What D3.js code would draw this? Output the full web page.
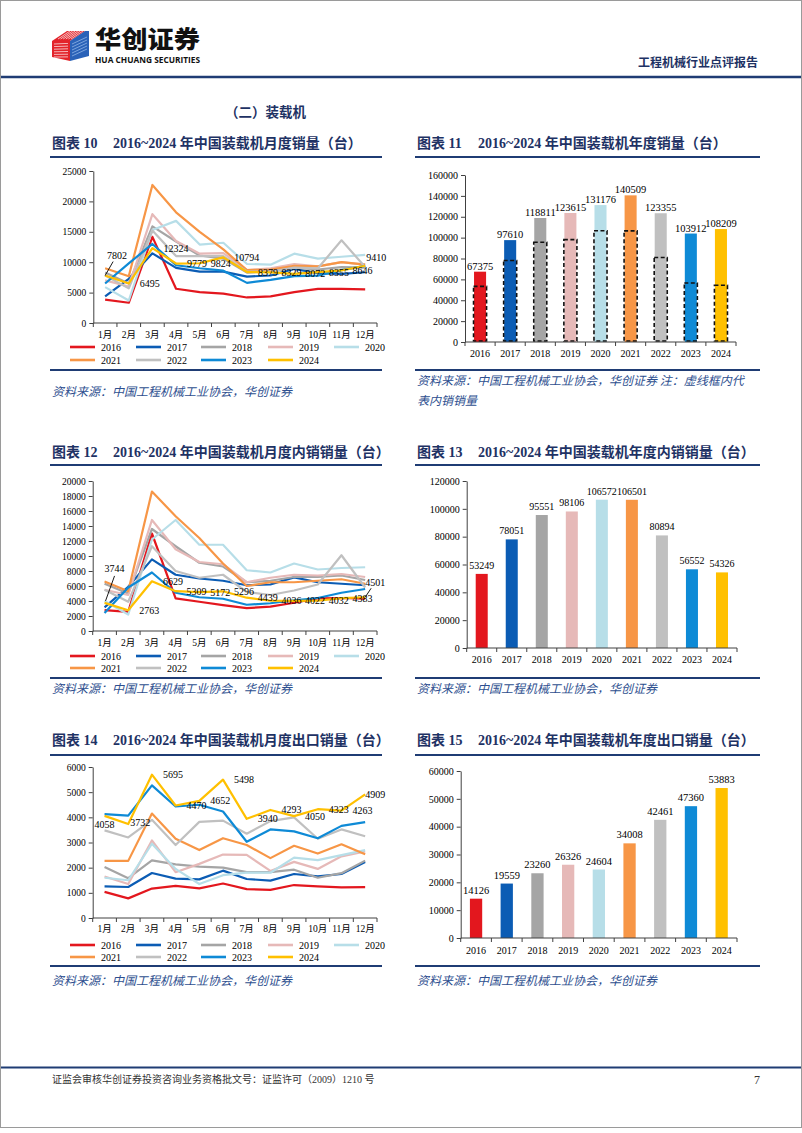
<!DOCTYPE html>
<html><head><meta charset="utf-8">
<script src="https://cdn.jsdelivr.net/npm/d3@7"></script>
<style>
body{margin:0;background:#fff}
svg{display:block}
</style></head><body>
<svg id="page" width="802" height="1133"></svg>
<script>
// ---------------- DATA ----------------
const months = ["1月","2月","3月","4月","5月","6月","7月","8月","9月","10月","11月","12月"];
const years = ["2016","2017","2018","2019","2020","2021","2022","2023","2024"];
const yearColors = ["#e3171e","#0b5cb4","#a5a5a5","#e6b9b8","#b7dee8","#f79646","#c0c0c0","#0e8ad6","#ffc000"];

// Chart 10: monthly total sales, one array per year 2016..2024
const monthlyTotal = [
  [3830, 3330, 14170, 5630, 5080, 4820, 4200, 4370, 5080, 5610, 5620, 5530],
  [4370, 7260, 11460, 9060, 8460, 8460, 7640, 7810, 8900, 8190, 8080, 8350],
  [8300, 6500, 15900, 13400, 11100, 10600, 8300, 8500, 9100, 8800, 9200, 9100],
  [7000, 6000, 17900, 13500, 11400, 11500, 8700, 9000, 9700, 9300, 10000, 9600],
  [5900, 3700, 15300, 16800, 12900, 13200, 9700, 9600, 11400, 10600, 10900, 11200],
  [9000, 7700, 22700, 18200, 15000, 12100, 8700, 8800, 9400, 9300, 10000, 9600],
  [7800, 5700, 15200, 11000, 11000, 11000, 8500, 8400, 9100, 9000, 13600, 9200],
  [6500, 9800, 13000, 9500, 9000, 8600, 6600, 7100, 7700, 7800, 8700, 9400],
  [7802, 6495, 12324, 9779, 9824, 10794, 8379, 8329, 8072, 8355, 8646, 9410]
];
// Chart 12: monthly domestic sales
const monthlyDomestic = [
  [2790, 2550, 13000, 4350, 3900, 3450, 3050, 3250, 3770, 4350, 4400, 4300],
  [3150, 5900, 9550, 7500, 7000, 6700, 6100, 6200, 7150, 6500, 6300, 6100],
  [6300, 5000, 13600, 11300, 9100, 8600, 6500, 6700, 7200, 7200, 7400, 6800],
  [5500, 4800, 14800, 10900, 9200, 8900, 6500, 7100, 7500, 7400, 7600, 7200],
  [4000, 2200, 12200, 14800, 11500, 11500, 8100, 7800, 9000, 8200, 8400, 8500],
  [6600, 5300, 18600, 15300, 12400, 9000, 6000, 6500, 6500, 6700, 6900, 6300],
  [5500, 3900, 11300, 8000, 7100, 7500, 5200, 4800, 5400, 6200, 10100, 5800],
  [2400, 5800, 7800, 5100, 4500, 4300, 3500, 3700, 4100, 4400, 5100, 5600],
  [3744, 2763, 6629, 5309, 5172, 5296, 4439, 4036, 4022, 4032, 4383, 4501]
];
// Chart 14: monthly export sales
const monthlyExport = [
  [1040, 780, 1170, 1280, 1180, 1370, 1150, 1120, 1310, 1260, 1220, 1230],
  [1258, 1232, 1788, 1563, 1536, 1881, 1550, 1483, 1748, 1656, 1748, 2225],
  [2030, 1580, 2290, 2130, 2040, 2000, 1820, 1820, 1920, 1600, 1780, 2280],
  [1650, 1350, 3080, 1820, 2150, 2520, 2510, 1870, 2230, 1950, 2450, 2650],
  [1600, 1500, 2950, 1950, 1350, 1700, 1800, 1800, 2400, 2300, 2500, 2700],
  [2270, 2270, 4150, 3150, 2700, 3170, 2900, 2380, 2870, 2560, 2930, 2530],
  [3480, 3200, 3900, 2900, 3820, 3870, 3350, 3850, 4000, 3150, 3520, 3250],
  [4130, 4070, 5270, 4430, 4500, 4230, 3030, 3520, 3440, 3170, 3660, 3810],
  [4058, 3732, 5695, 4470, 4652, 5498, 3940, 4293, 4050, 4323, 4263, 4909]
];
// Charts 11, 13, 15: annual values
const annualTotal    = [67375, 97610, 118811, 123615, 131176, 140509, 123355, 103912, 108209];
const annualDomestic = [53249, 78051, 95551, 98106, 106572, 106501, 80894, 56552, 54326];
const annualExport   = [14126, 19559, 23260, 26326, 24604, 34008, 42461, 47360, 53883];

// Axis tick values
const ticksMonthlyTotal    = [0, 5000, 10000, 15000, 20000, 25000];
const ticksMonthlyDomestic = [0, 2000, 4000, 6000, 8000, 10000, 12000, 14000, 16000, 18000, 20000];
const ticksMonthlyExport   = [0, 1000, 2000, 3000, 4000, 5000, 6000];
const ticksAnnualTotal     = [0, 20000, 40000, 60000, 80000, 100000, 120000, 140000, 160000];
const ticksAnnualDomestic  = [0, 20000, 40000, 60000, 80000, 100000, 120000];
const ticksAnnualExport    = [0, 10000, 20000, 30000, 40000, 50000, 60000];

// ---------------- STYLE ----------------
const NAVY = "#1e3264";
const SRC = "#2e4f8f";
const SERIF = "'Liberation Serif','Times New Roman','Noto Sans CJK SC',serif";
const SANS = "'Noto Sans CJK SC','Liberation Sans',sans-serif";
const AX = "#404040";

const svg = d3.select("#page");

// page border
svg.append("rect").attr("x",0.5).attr("y",0.5).attr("width",801).attr("height",1127)
  .attr("fill","none").attr("stroke","#9a9a9a").attr("stroke-width",1);

// ---------------- HEADER ----------------
const logo = svg.append("g");
logo.append("path").attr("d","M52,41 L67,31 L85,31 L70,41 Z").attr("fill","#e3242b");
logo.append("path").attr("d","M52,41 L70,41 L70,61 L52,57 Z").attr("fill","#e3242b");
logo.append("path").attr("d","M70,41 L85,31 L89,31 L89,56 L70,61 Z").attr("fill","#2a62b8");
for (let i = 0; i < 6; i++) {
  logo.append("line").attr("x1",54).attr("y1",44 + i*2.6).attr("x2",68).attr("y2",44 + i*2.6 - 0.6 + i*0.1)
    .attr("stroke","#fff").attr("stroke-width",0.8).attr("opacity",0.85);
  logo.append("line").attr("x1",58 + i*2.6).attr("y1",39).attr("x2",70 + i*2.6).attr("y2",31)
    .attr("stroke","#fff").attr("stroke-width",0.8).attr("opacity",0.85);
}
for (let i = 0; i < 5; i++) {
  logo.append("line").attr("x1",72).attr("y1",44 + i*3).attr("x2",87).attr("y2",37 + i*3)
    .attr("stroke","#9dc0ec").attr("stroke-width",0.7);
}
svg.append("text").attr("x",95).attr("y",48).text("华创证券")
  .attr("font-family",SANS).attr("font-weight",900).attr("font-size",24)
  .attr("textLength",105).attr("lengthAdjust","spacingAndGlyphs").attr("fill","#111");
svg.append("text").attr("x",95).attr("y",63).text("HUA CHUANG SECURITIES")
  .attr("font-family","'Open Sans','Liberation Sans',sans-serif").attr("font-weight",700).attr("font-size",8)
  .attr("textLength",105).attr("lengthAdjust","spacingAndGlyphs").attr("fill","#111");
svg.append("text").attr("x",758).attr("y",67).attr("text-anchor","end").text("工程机械行业点评报告")
  .attr("font-family",SANS).attr("font-weight",700).attr("font-size",12).attr("fill",NAVY);
svg.append("line").attr("x1",1).attr("x2",801).attr("y1",77).attr("y2",77)
  .attr("stroke","#1f3c74").attr("stroke-width",2.5);

svg.append("text").attr("x",225).attr("y",117).text("（二）装载机")
  .attr("font-family",SANS).attr("font-weight",700).attr("font-size",13.5).attr("fill",NAVY);

// ---------------- TITLES / RULES / SOURCES ----------------
function title(x, y, num, rest) {
  svg.append("text").attr("x",x+2).attr("y",y).text("图表 " + num)
    .attr("font-family",SERIF).attr("font-weight",700).attr("font-size",14).attr("fill",NAVY);
  svg.append("text").attr("x",x+63).attr("y",y).text(rest)
    .attr("font-family",SERIF).attr("font-weight",700).attr("font-size",14).attr("fill",NAVY);
}
function rule(x1, x2, y) {
  svg.append("line").attr("x1",x1).attr("x2",x2).attr("y1",y).attr("y2",y)
    .attr("stroke","#1f3c74").attr("stroke-width",2);
}
function source(x, y, txt) {
  svg.append("text").attr("x",x).attr("y",y).text(txt)
    .attr("font-family",SANS).attr("font-style","italic").attr("font-size",12).attr("fill",SRC);
}
const L0 = 50, L1 = 382, R0 = 415, R1 = 760;
title(L0, 148, "10", "2016~2024 年中国装载机月度销量（台）");
title(R0, 148, "11", "2016~2024 年中国装载机年度销量（台）");
title(L0, 457, "12", "2016~2024 年中国装载机月度内销销量（台）");
title(R0, 457, "13", "2016~2024 年中国装载机年度内销销量（台）");
title(L0, 745, "14", "2016~2024 年中国装载机月度出口销量（台）");
title(R0, 745, "15", "2016~2024 年中国装载机年度出口销量（台）");
[157, 465, 755].forEach(y => { rule(L0, L1, y); rule(R0, R1, y); });
[370, 678, 966].forEach(y => { rule(L0, L1, y); rule(R0, R1, y); });
source(52, 396, "资料来源：中国工程机械工业协会，华创证券");
source(417, 385, "资料来源：中国工程机械工业协会，华创证券 注：虚线框内代");
source(417, 405, "表内销销量");
source(52, 693, "资料来源：中国工程机械工业协会，华创证券");
source(417, 693, "资料来源：中国工程机械工业协会，华创证券");
source(52, 985, "资料来源：中国工程机械工业协会，华创证券");
source(417, 985, "资料来源：中国工程机械工业协会，华创证券");

// footer
svg.append("line").attr("x1",1).attr("x2",801).attr("y1",1067.5).attr("y2",1067.5)
  .attr("stroke","#1f3c74").attr("stroke-width",2);
svg.append("text").attr("x",52).attr("y",1083).text("证监会审核华创证券投资咨询业务资格批文号：证监许可（2009）1210 号")
  .attr("font-family",SERIF).attr("font-size",10).attr("fill","#333");
svg.append("text").attr("x",760).attr("y",1084).attr("text-anchor","end").text("7")
  .attr("font-family",SERIF).attr("font-size",12).attr("fill","#333");

// ---------------- AXES ----------------
function yAxis(g, y, x0, ticks, fs) {
  const a = g.append("g").attr("transform",`translate(${x0},0)`)
    .call(d3.axisLeft(y).tickValues(ticks).tickSize(4).tickSizeOuter(0).tickPadding(3).tickFormat(d3.format("d")));
  a.select(".domain").attr("stroke",AX);
  a.selectAll(".tick line").attr("stroke",AX);
  a.selectAll("text").attr("font-family",SERIF).attr("font-size",fs).attr("fill","#000");
}
function xAxis(g, x, step, yB, labelY, fs) {
  const [r0, r1] = x.range();
  g.append("line").attr("x1",r0).attr("x2",r1).attr("y1",yB).attr("y2",yB).attr("stroke",AX);
  const n = x.domain().length;
  d3.range(n + 1).forEach(i => {
    const xx = r0 + i * step;
    g.append("line").attr("x1",xx).attr("x2",xx).attr("y1",yB).attr("y2",yB+4).attr("stroke",AX);
  });
  x.domain().forEach(d => {
    g.append("text").attr("x", x(d) + x.bandwidth()/2).attr("y", labelY).attr("text-anchor","middle")
      .attr("dominant-baseline","central").text(d)
      .attr("font-family",SERIF).attr("font-size",fs).attr("fill","#000");
  });
}

// ---------------- LINE CHARTS ----------------
function lineChart(c) {
  const g = svg.append("g");
  const x = d3.scaleBand().domain(months).range([c.left, c.right]);
  const y = d3.scaleLinear().domain([0, d3.max(c.ticks)]).range([c.bottom, c.top]);
  yAxis(g, y, c.left, c.ticks, 9.5);
  xAxis(g, x, x.step(), c.bottom, c.monthY, 9.5);
  const cx = i => x(months[i]) + x.bandwidth()/2;
  const line = d3.line().x((d,i) => cx(i)).y(d => y(d));
  c.series.forEach((s, k) => {
    g.append("path").attr("d", line(s)).attr("fill","none").attr("stroke", yearColors[k])
      .attr("stroke-width", 2.2).attr("stroke-linejoin","round");
  });
  const last = c.series[c.series.length - 1];
  last.forEach((v, i) => {
    const px = cx(i), py = y(v);
    const sp = c.special[i] || {dx: 11, dy: 0, anchor: "start"};
    if (sp.leader) {
      g.append("line").attr("x1", px + sp.leader[0]).attr("y1", py + sp.leader[1])
        .attr("x2", px + sp.leader[2]).attr("y2", py + sp.leader[3]).attr("stroke","#000").attr("stroke-width",0.9);
    }
    g.append("text").attr("x", px + sp.dx).attr("y", py + sp.dy).attr("text-anchor", sp.anchor)
      .attr("dominant-baseline","central").text(v)
      .attr("font-family",SERIF).attr("font-size",10).attr("fill","#000");
  });
  const cols = [70, 136, 201, 268, 334];
  years.forEach((yr, k) => {
    const row = k < 5 ? 0 : 1, col = k < 5 ? k : k - 5;
    const ly = c.legendY[row], lx = cols[col];
    g.append("line").attr("x1", lx).attr("x2", lx + 25).attr("y1", ly).attr("y2", ly)
      .attr("stroke", yearColors[k]).attr("stroke-width", 2.6);
    g.append("text").attr("x", lx + 31).attr("y", ly).attr("dominant-baseline","central").text(yr)
      .attr("font-family",SERIF).attr("font-size",10).attr("fill","#000");
  });
}

lineChart({left: 93.3, right: 377, top: 171, bottom: 323, ticks: ticksMonthlyTotal,
  series: monthlyTotal, monthY: 335, legendY: [347, 360],
  special: {0: {dx: 2, dy: -20, anchor: "start", leader: [0, 0, 8, -14]},
            11: {dx: 1, dy: -8, anchor: "start"}}});
lineChart({left: 92.7, right: 377, top: 481, bottom: 631, ticks: ticksMonthlyDomestic,
  series: monthlyDomestic, monthY: 643, legendY: [656, 668],
  special: {0: {dx: 0, dy: -34, anchor: "start", leader: [1, -2, 10, -27]},
            11: {dx: 0, dy: -15, anchor: "start", leader: [0, 0, 6, -9]}}});
lineChart({left: 92.7, right: 377, top: 767, bottom: 918, ticks: ticksMonthlyExport,
  series: monthlyExport, monthY: 929, legendY: [945, 957],
  special: {0: {dx: 0, dy: 9, anchor: "middle"},
            1: {dx: 2, dy: -2, anchor: "start"},
            11: {dx: 0, dy: 0, anchor: "start"}}});

// ---------------- BAR CHARTS ----------------
function barChart(c) {
  const g = svg.append("g");
  const x = d3.scaleBand().domain(years).range([c.left, c.right]).paddingInner(0.6).paddingOuter(0.3);
  const y = d3.scaleLinear().domain([0, d3.max(c.ticks)]).range([c.bottom, c.top]);
  yAxis(g, y, c.left, c.ticks, 10);
  g.selectAll("rect.bar").data(c.values).enter().append("rect")
    .attr("x", (d,i) => x(years[i])).attr("width", x.bandwidth())
    .attr("y", d => y(d)).attr("height", d => y(0) - y(d))
    .attr("fill", (d,i) => yearColors[i]);
  if (c.dashed) {
    g.selectAll("rect.dash").data(c.dashed).enter().append("rect")
      .attr("x", (d,i) => x(years[i]) - 0.5).attr("width", x.bandwidth() + 1)
      .attr("y", d => y(d)).attr("height", d => y(0) - y(d) - 1)
      .attr("fill","none").attr("stroke","#111").attr("stroke-width",1.6).attr("stroke-dasharray","4,2.5");
  }
  xAxis(g, x, x.step(), c.bottom, c.yearY, 10);
  g.selectAll("text.val").data(c.values).enter().append("text")
    .attr("x", (d,i) => x(years[i]) + x.bandwidth()/2).attr("y", d => y(d) - c.labelGap)
    .attr("text-anchor","middle").text(d => d)
    .attr("font-family",SERIF).attr("font-size",c.labelSize).attr("fill","#000");
}
barChart({left: 465, right: 736, top: 175, bottom: 342, ticks: ticksAnnualTotal,
  values: annualTotal, dashed: annualDomestic, yearY: 353, labelGap: 2, labelSize: 10.5});
barChart({left: 466.7, right: 737, top: 481, bottom: 648, ticks: ticksAnnualDomestic,
  values: annualDomestic, yearY: 659, labelGap: 5, labelSize: 10});
barChart({left: 460.7, right: 737, top: 771, bottom: 938, ticks: ticksAnnualExport,
  values: annualExport, yearY: 950, labelGap: 5, labelSize: 10.5});
</script>
</body></html>
